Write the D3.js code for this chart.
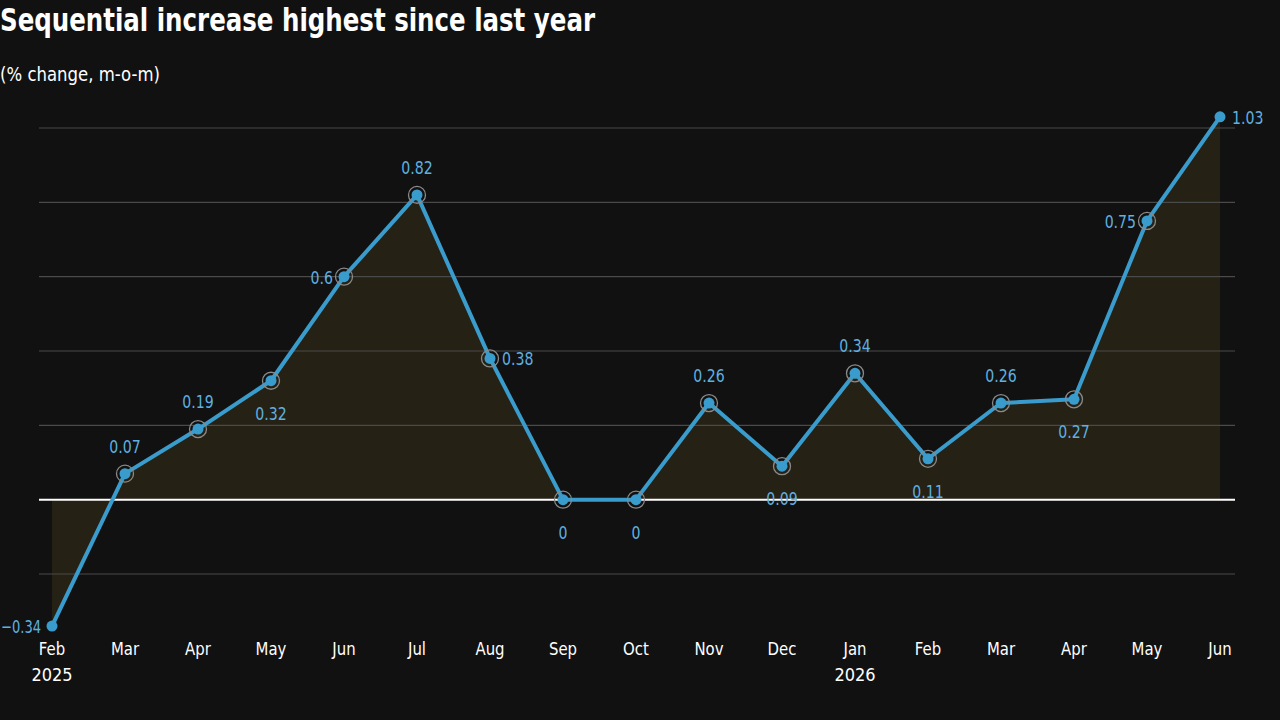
<!DOCTYPE html>
<html><head><meta charset="utf-8">
<script src="https://cdn.jsdelivr.net/npm/d3@7"></script>
<style>
html,body{margin:0;padding:0;background:#111111;}
svg{display:block;}
text{font-family:"DejaVu Sans Condensed","DejaVu Sans",sans-serif;font-stretch:condensed;}
</style></head>
<body>
<svg id="c" width="1280" height="720"></svg>
<script>
const months = ["Feb","Mar","Apr","May","Jun","Jul","Aug","Sep","Oct","Nov","Dec","Jan","Feb","Mar","Apr","May","Jun"];
const years = ["2025","","","","","","","","","","","2026","","","","",""];
const values = [-0.34,0.07,0.19,0.32,0.6,0.82,0.38,0,0,0.26,0.09,0.34,0.11,0.26,0.27,0.75,1.03];
const labelPos = ["left","top","top","bottom","left","top","right","bottom","bottom","top","bottom","top","bottom","top","bottom","left","right"];
const gridTicks = [-0.2,0,0.2,0.4,0.6,0.8,1.0];

const svg = d3.select("#c");
svg.append("rect").attr("width",1280).attr("height",720).attr("fill","#111111");

svg.append("text").attr("x",0).attr("y",31).attr("fill","#ffffff")
  .attr("font-size",32).attr("font-weight","bold")
  .attr("textLength",595).attr("lengthAdjust","spacingAndGlyphs")
  .text("Sequential increase highest since last year");
svg.append("text").attr("x",0).attr("y",81).attr("fill","#ffffff")
  .attr("font-size",19).attr("textLength",160).attr("lengthAdjust","spacingAndGlyphs")
  .text("(% change, m-o-m)");

const x = d3.scaleLinear().domain([0,months.length-1]).range([52,1220]);
const y = d3.scaleLinear().domain([-0.2,1.0]).range([574,128]);

const g = svg.append("g");
g.selectAll("line.grid").data(gridTicks).join("line").attr("class","grid")
  .attr("x1",39).attr("x2",1235)
  .attr("y1",d=>y(d)).attr("y2",d=>y(d))
  .attr("stroke",d=>d===0?"#ffffff":"#4a4a4a")
  .attr("stroke-width",d=>d===0?2:1.2);

const area = d3.area().x((d,i)=>x(i)).y0(y(0)).y1(d=>y(d));
g.insert("path","line").datum(values).attr("d",area).attr("fill","#262115");

const line = d3.line().x((d,i)=>x(i)).y(d=>y(d));
g.append("path").datum(values).attr("d",line).attr("fill","none")
  .attr("stroke","#3a9ccc").attr("stroke-width",4).attr("stroke-linejoin","round");

values.forEach((v,i)=>{
  if(i>0 && i<values.length-1){
    g.append("circle").attr("cx",x(i)).attr("cy",y(v)).attr("r",8.5)
      .attr("fill","none").attr("stroke","#8a8a8a").attr("stroke-width",1.3);
  }
});
g.selectAll("circle.dot").data(values).join("circle").attr("class","dot")
  .attr("cx",(d,i)=>x(i)).attr("cy",d=>y(d)).attr("r",5.5).attr("fill","#3a9ccc");

const vals = g.selectAll("text.val").data(values).join("text").attr("class","val")
  .attr("x",(d,i)=>{const p=labelPos[i]; return p==="left"?x(i)-11:p==="right"?x(i)+12:x(i);})
  .attr("y",(d,i)=>{const p=labelPos[i]; return p==="top"?y(d)-21:p==="bottom"?y(d)+39:y(d)+7;})
  .attr("text-anchor",(d,i)=>{const p=labelPos[i]; return p==="left"?"end":p==="right"?"start":"middle";})
  .attr("fill","#5fb0e0").attr("font-size",18).text(d=>d<0?"\u2212"+Math.abs(d):String(d));
// narrow the labels to a condensed width, and keep them inside the canvas
vals.each(function(d,i){
  const w=this.getComputedTextLength();
  const sel=d3.select(this);
  let tw=w*0.87;
  if(labelPos[i]==="left" && x(i)-11-tw<1){
    tw=x(i)-11-1;
    sel.attr("text-anchor","start").attr("x",1);
  }
  sel.attr("textLength",tw).attr("lengthAdjust","spacingAndGlyphs");
});

const mons = g.selectAll("text.mon").data(months).join("text").attr("class","mon")
  .attr("x",(d,i)=>x(i)).attr("y",655).attr("text-anchor","middle")
  .attr("fill","#ffffff").attr("font-size",18).text(d=>d);
const yrs = g.selectAll("text.yr").data(years).join("text").attr("class","yr")
  .attr("x",(d,i)=>x(i)).attr("y",681).attr("text-anchor","middle")
  .attr("fill","#ffffff").attr("font-size",18).text(d=>d);
mons.merge(yrs).each(function(){
  const w=this.getComputedTextLength();
  if(w>0) d3.select(this).attr("textLength",w*0.92).attr("lengthAdjust","spacingAndGlyphs");
});
</script>
</body></html>
